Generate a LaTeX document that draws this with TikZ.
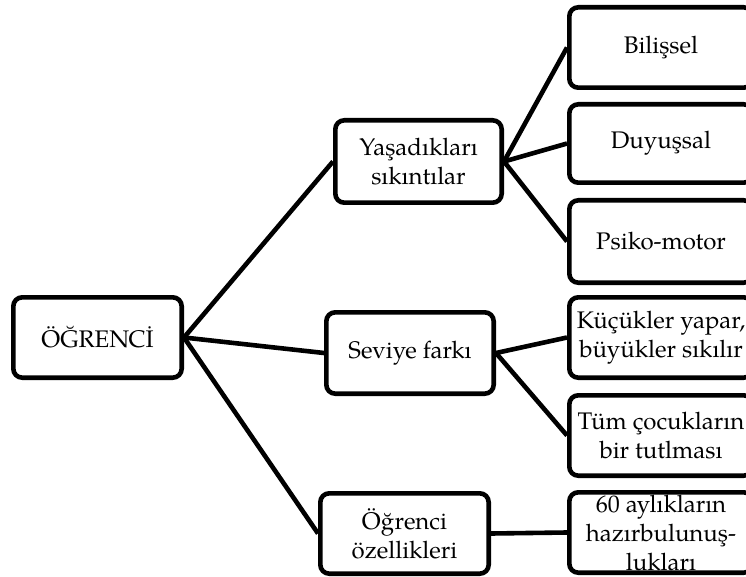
\documentclass[tikz,border=0pt]{standalone}
\usepackage{fontspec}
\setmainfont{TeX Gyre Pagella}
\begin{document}
\begin{tikzpicture}[x=1pt,y=-1pt,
  box/.style={draw, line width=4.6pt, rounded corners=9pt, align=center,
    inner sep=0pt, font=\fontsize{24}{29}\selectfont},
  leaf/.style={box, minimum width=183.4pt, minimum height=80.4pt},
  link/.style={line width=4.6pt}]
\useasboundingbox (0,0) rectangle (746,577);
\clip (0,0) rectangle (746,577);

% root
\node[box, minimum width=168.4pt, minimum height=80.4pt] (ogr) at (97.5,337.5) {ÖĞRENCİ};

% middle level
\node[box, minimum width=166.4pt, minimum height=82.4pt] (yas) at (418.5,161.5) {Yaşadıkları\\sıkıntılar};
\node[box, minimum width=167.4pt, minimum height=81.4pt] (sev) at (410,353) {Seviye farkı};
\node[box, minimum width=168.4pt, minimum height=80.4pt] (oze) at (404.5,533.5) {Öğrenci\\özellikleri};

% leaves
\node[leaf] (bil) at (661,47.5) {Bilişsel};
\node[leaf, minimum height=78.4pt] (duy) at (661,143.5) {Duyuşsal};
\node[leaf, minimum height=82.4pt] (psi) at (661,241.5) {Psiko-motor};
\node[leaf] (kuc) at (661,337.5) {Küçükler yapar,\\büyükler sıkılır};
\node[leaf] (tum) at (661,435.5) {Tüm çocukların\\bir tutlması};
\node[leaf] (ayl) at (661,532.5) {60 aylıkların\\hazırbulunuş-\\lukları};

% connectors
\draw[link] (ogr.east) -- (yas.west);
\draw[link] (ogr.east) -- (sev.west);
\draw[link] (ogr.east) -- (oze.west);
\draw[link] (yas.east) -- (bil.west);
\draw[link] (yas.east) -- (duy.west);
\draw[link] (yas.east) -- (psi.west);
\draw[link] (sev.east) -- (kuc.west);
\draw[link] (sev.east) -- (tum.west);
\draw[link] (oze.east) -- (ayl.west);
\end{tikzpicture}
\end{document}
